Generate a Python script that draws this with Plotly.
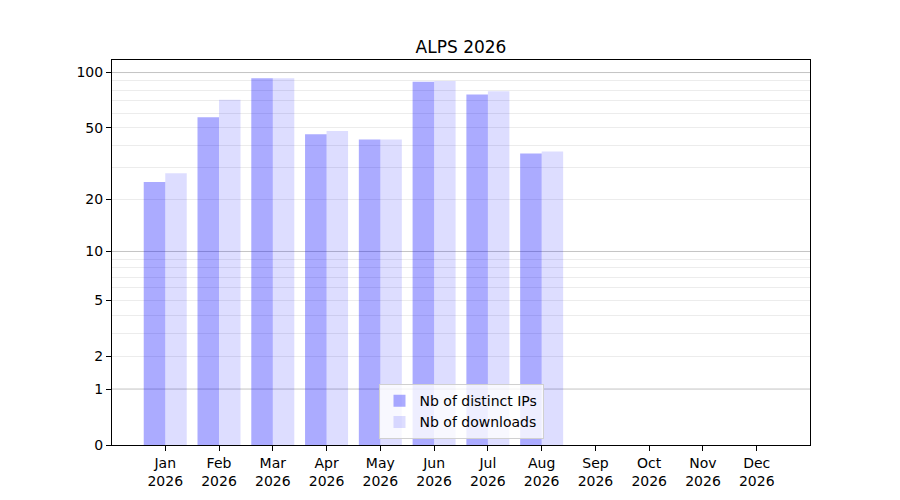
import numpy as np
import plotly.graph_objects as go

months = ['Jan', 'Feb', 'Mar', 'Apr', 'May', 'Jun', 'Jul', 'Aug', 'Sep', 'Oct', 'Nov', 'Dec']
year = '2026'
distinct_ips = [25, 57, 93, 46, 43, 89, 76, 36, 0, 0, 0, 0]
downloads = [28, 71, 93, 48, 43, 90, 79, 37, 0, 0, 0, 0]

y_labels = [0, 1, 2, 5, 10, 20, 50, 100]
major_grid = [1, 10, 100]
minor_grid = [2, 3, 4, 5, 6, 7, 8, 9, 20, 30, 40, 50, 60, 70, 80, 90]


def tr(v):
    # log(1 + x) scale, so that zero months still sit on the axis
    return np.log10(1 + np.asarray(v, dtype=float))


x = list(range(len(months)))
ticktext = [m + '<br>' + year for m in months]

fig = go.Figure()
fig.add_trace(go.Bar(
    x=x, y=tr(distinct_ips), name='Nb of distinct IPs',
    marker=dict(color='rgba(0,0,255,0.33)', line=dict(width=0)),
    customdata=distinct_ips, hovertemplate='%{customdata}<extra></extra>'
))
fig.add_trace(go.Bar(
    x=x, y=tr(downloads), name='Nb of downloads',
    marker=dict(color='rgba(0,0,255,0.135)', line=dict(width=0)),
    customdata=downloads, hovertemplate='%{customdata}<extra></extra>'
))

ymax = float(max(tr(distinct_ips).max(), tr(downloads).max())) * 1.05

for v in major_grid:
    fig.add_shape(type='line', xref='paper', x0=0, x1=1, yref='y', y0=float(tr(v)), y1=float(tr(v)),
                  line=dict(color='#c4c4c4', width=1), layer='below')

fig.update_layout(
    width=900, height=500,
    margin=dict(l=104, r=98, t=52, b=63),
    paper_bgcolor='white', plot_bgcolor='white',
    font=dict(family='DejaVu Sans', size=14, color='black'),
    title=dict(text='ALPS 2026', xref='paper', x=0.5, xanchor='center', y=0.922, yanchor='middle',
               font=dict(size=17)),
    barmode='group', bargap=0.2, bargroupgap=0,
    showlegend=True,
    legend=dict(x=0.5, xanchor='center', y=0.015, yanchor='bottom',
                bgcolor='rgba(255,255,255,0.8)', bordercolor='#d0d0d0', borderwidth=1,
                font=dict(size=14), tracegroupgap=0),
    xaxis=dict(range=[-0.99, 11.99], tickvals=x, ticktext=ticktext,
               showgrid=False, zeroline=False,
               showline=True, linecolor='black', linewidth=1, mirror=True,
               ticks='outside', ticklen=5, tickcolor='black'),
    yaxis=dict(range=[0, ymax], tickvals=tr(y_labels).tolist(), ticktext=[str(v) for v in y_labels],
               showgrid=False, zeroline=False,
               showline=True, linecolor='black', linewidth=1, mirror=True,
               ticks='outside', ticklen=5, tickcolor='black',
               minor=dict(tickvals=tr(minor_grid).tolist(), showgrid=True,
                          gridcolor='#ececec', gridwidth=1, ticks='')),
)

fig.write_html('out.html')
